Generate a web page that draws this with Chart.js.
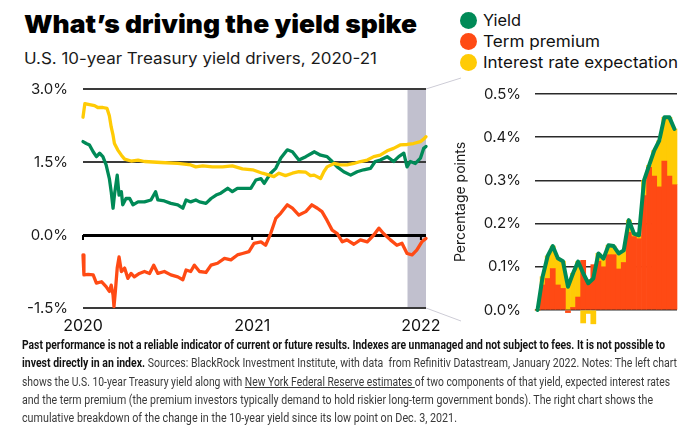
<!DOCTYPE html>
<html>
<head>
<meta charset="utf-8">
<script src="https://cdn.jsdelivr.net/npm/chart.js@4/dist/chart.umd.min.js"></script>
<style>
html,body{margin:0;padding:0;background:#fff;width:700px;height:427px;overflow:hidden;}
body{position:relative;font-family:Inter,"Open Sans",sans-serif;}
.t{position:absolute;white-space:nowrap;transform-origin:0 0;}
#title{left:24px;top:9px;font-size:25px;line-height:30px;font-weight:900;color:#000;}
#subtitle{left:24px;top:50px;font-size:15.5px;line-height:18px;color:#1a1a1a;}
.lg{left:483px;font-size:16px;line-height:20px;color:#111;}
.dot{position:absolute;left:460px;width:17px;height:17px;border-radius:50%;}
.fn{left:22px;font-family:"Liberation Sans Narrow",Roboto,sans-serif;font-size:12.5px;line-height:18px;color:#3a3a3a;}
.fn b{color:#111;}
.fn u{text-decoration:underline;}
canvas{position:absolute;top:0;}
#left{left:0;}
#right{left:440px;}
</style>
</head>
<body>
<div id="title" class="t" data-w="393">What’s driving the yield spike</div>
<div id="subtitle" class="t" data-w="353">U.S. 10-year Treasury yield drivers, 2020-21</div>

<div class="dot" style="top:12px;background:#008a57"></div>
<div class="dot" style="top:33px;background:#ff4a14"></div>
<div class="dot" style="top:54px;background:#ffcb05"></div>
<div class="t lg" style="top:10px" data-w="38">Yield</div>
<div class="t lg" style="top:31px" data-w="117">Term premium</div>
<div class="t lg" style="top:52px" data-w="195">Interest rate expectation</div>

<canvas id="left" width="470" height="340"></canvas>
<canvas id="right" width="260" height="340"></canvas>

<div class="t fn" style="top:336px" data-w="643"><b>Past performance is not a reliable indicator of current or future results. Indexes are unmanaged and not subject to fees. It is not possible to</b></div>
<div class="t fn" style="top:354.3px" data-w="655"><b>invest directly in an index.</b> Sources: BlackRock Investment Institute, with data&nbsp; from Refinitiv Datastream, January 2022. Notes: The left chart</div>
<div class="t fn" style="top:372.6px" data-w="648">shows the U.S. 10-year Treasury yield along with <u>New York Federal Reserve estimates </u>of two components of that yield, expected interest rates</div>
<div class="t fn" style="top:390.9px" data-w="631">and the term premium (the premium investors typically demand to hold riskier long-term government bonds). The right chart shows the</div>
<div class="t fn" style="top:409.2px" data-w="435">cumulative breakdown of the change in the 10-year yield since its low point on Dec. 3, 2021.</div>

<script>
// ---------- DATA ----------
// Left chart: days since 2020-01-01
const yieldDays = [0,7,14,22,29,36,43,50,57,61,65,68,74,78,83,86,93,101,108,119,133,147,157,162,176,190,205,216,223,233,244,252,266,277,288,298,313,323,334,349,363,374,385,392,406,417,428,442,453,467,482,495,500,514,528,539,550,564,579,593,607,622,632,643,658,672,683,694,701,708,719,730,737,742];
const yieldVals = [1.92,1.88,1.85,1.71,1.61,1.68,1.61,1.44,1.16,0.89,0.55,0.82,1.23,0.82,0.89,0.62,0.75,0.75,0.62,0.68,0.68,0.72,0.89,0.72,0.70,0.65,0.62,0.55,0.72,0.68,0.72,0.68,0.65,0.75,0.82,0.86,0.96,0.89,0.96,0.96,0.96,1.13,1.16,1.06,1.27,1.37,1.58,1.75,1.71,1.54,1.61,1.68,1.71,1.64,1.61,1.51,1.40,1.30,1.23,1.30,1.34,1.37,1.51,1.54,1.61,1.51,1.61,1.68,1.40,1.51,1.47,1.58,1.78,1.82];

const rateDays = [0,4,14,25,32,43,52,57,61,65,68,75,83,90,104,119,133,169,205,233,244,259,280,302,323,345,367,388,403,413,424,438,453,467,482,492,500,514,521,528,543,557,571,586,600,615,629,643,658,672,686,701,715,730,737,742];
const rateVals = [2.42,2.70,2.68,2.66,2.62,2.62,2.60,2.45,2.22,2.05,1.88,1.75,1.64,1.56,1.52,1.54,1.51,1.49,1.47,1.44,1.40,1.42,1.40,1.40,1.42,1.36,1.34,1.27,1.23,1.20,1.27,1.22,1.27,1.30,1.29,1.22,1.23,1.16,1.30,1.40,1.47,1.44,1.44,1.47,1.51,1.54,1.61,1.64,1.73,1.78,1.85,1.86,1.88,1.92,1.97,2.02];

const termDays = [0,2,11,22,29,40,50,57,61,65,67,70,74,78,83,90,97,104,111,122,133,144,153,162,176,190,205,216,223,233,241,252,266,277,291,306,320,334,345,359,370,385,395,406,417,428,442,453,467,482,495,507,517,528,539,550,561,571,586,600,615,629,640,650,665,679,690,701,712,722,733,742];
const termVals = [-0.41,-0.82,-0.81,-0.82,-0.99,-0.96,-1.06,-1.16,-1.03,-1.23,-1.47,-1.16,-0.68,-0.45,-0.75,-0.68,-0.89,-0.79,-0.86,-0.79,-0.75,-0.79,-0.62,-0.79,-0.75,-0.82,-0.86,-0.92,-0.72,-0.75,-0.62,-0.75,-0.77,-0.62,-0.58,-0.48,-0.51,-0.41,-0.38,-0.34,-0.17,-0.14,-0.21,0.03,0.34,0.45,0.62,0.55,0.41,0.48,0.62,0.55,0.48,0.30,0.10,0.03,-0.14,-0.10,-0.19,-0.10,-0.14,0.0,0.14,0.03,-0.10,-0.21,-0.17,-0.38,-0.41,-0.31,-0.14,-0.07];

const yearTickDays = [0, 366, 731];
const yearTickLabels = ['2020', '2021', '2022'];
const bandStartDay = 702; // Dec. 3, 2021
const leftMaxDay = 742;

// Right chart: cumulative change since Dec. 3, 2021 (percentage points)
const rightDates = ['Dec 3','Dec 6','Dec 7','Dec 8','Dec 9','Dec 10','Dec 13','Dec 14','Dec 15','Dec 16','Dec 17','Dec 20','Dec 21','Dec 22','Dec 23','Dec 27','Dec 28','Dec 29','Dec 30','Dec 31','Jan 3','Jan 4','Jan 5','Jan 6','Jan 7','Jan 10','Jan 11','Jan 12'];
const rYield = [0,0.077,0.125,0.148,0.12,0.113,0.054,0.085,0.112,0.085,0.062,0.073,0.131,0.119,0.15,0.148,0.131,0.138,0.208,0.177,0.173,0.30,0.335,0.369,0.392,0.446,0.446,0.419];
const rTerm  = [0,0.058,0.073,0.096,0.058,0.05,-0.006,0.006,0.03,0.115,0.07,0.105,0.113,0.10,0.128,0.128,0.095,0.11,0.18,0.17,0.165,0.265,0.33,0.31,0.285,0.345,0.31,0.29];
const rRate  = [0,0.019,0.052,0.052,0.062,0.063,0.06,0.079,0.082,-0.03,-0.008,-0.032,0.018,0.019,0.022,0.02,0.036,0.028,0.028,0.007,0.008,0.035,0.005,0.059,0.107,0.101,0.136,0.129];

// ---------- STYLE ----------
const GREEN = '#008a57', RED = '#ff4a14', YELLOW = '#ffcb05', BAND = '#c1c0ce';

Chart.defaults.font.family = 'Inter, "Open Sans", sans-serif';
Chart.defaults.color = '#1a1a1a';

const pairs = (xs, ys) => xs.map((x, i) => ({x, y: ys[i]}));

const leftDecor = {
  id: 'leftDecor',
  beforeDraw(chart) {
    const {ctx, chartArea: a, scales: {x}} = chart;
    const x0 = x.getPixelForValue(bandStartDay);
    ctx.save();
    ctx.fillStyle = BAND;
    ctx.fillRect(x0, a.top, a.right - x0, a.bottom - a.top);
    ctx.restore();
  },
  afterDraw(chart) {
    const {ctx, chartArea: a, scales: {x, y}} = chart;
    const y0 = y.getPixelForValue(0);
    ctx.save();
    ctx.strokeStyle = '#000';
    ctx.lineWidth = 2;
    yearTickDays.forEach(d => {
      const px = x.getPixelForValue(d);
      ctx.beginPath(); ctx.moveTo(px, y0); ctx.lineTo(px, y0 + 5); ctx.stroke();
    });
    ctx.strokeStyle = '#cdccd6';
    ctx.lineWidth = 1;
    ctx.beginPath();
    ctx.moveTo(a.right, a.top); ctx.lineTo(a.right + 35, a.top - 11);
    ctx.moveTo(a.right, a.bottom); ctx.lineTo(a.right + 35, a.bottom + 13);
    ctx.stroke();
    ctx.restore();
  }
};

new Chart(document.getElementById('left'), {
  type: 'line',
  data: {
    datasets: [
      {label: 'Interest rate expectation', data: pairs(rateDays, rateVals), borderColor: YELLOW, order: 0},
      {label: 'Yield', data: pairs(yieldDays, yieldVals), borderColor: GREEN, order: 1},
      {label: 'Term premium', data: pairs(termDays, termVals), borderColor: RED, order: 2}
    ]
  },
  options: {
    responsive: false,
    animation: false,
    layout: {padding: {left: 0, top: 89, right: 44, bottom: 0}},
    elements: {
      point: {radius: 0},
      line: {borderWidth: 3.3, tension: 0, borderJoinStyle: 'round', borderCapStyle: 'round', fill: false}
    },
    datasets: {line: {clip: false}},
    plugins: {legend: {display: false}, tooltip: {enabled: false}},
    scales: {
      x: {
        type: 'linear', min: 0, max: leftMaxDay,
        afterBuildTicks: s => { s.ticks = yearTickDays.map(v => ({value: v})); },
        afterFit: s => { s.height = 32; },
        ticks: {
          autoSkip: false, maxRotation: 0, padding: 9,
          font: {size: 16}, color: '#111',
          callback: v => yearTickLabels[yearTickDays.indexOf(v)]
        },
        grid: {display: false, drawTicks: false},
        border: {display: false}
      },
      y: {
        min: -1.5, max: 3,
        afterFit: s => { s.width = 83; },
        ticks: {stepSize: 1.5, padding: 15, font: {size: 15}, color: '#1a1a1a', callback: v => v.toFixed(1) + '%'},
        grid: {
          drawTicks: false,
          color: c => c.tick && c.tick.value === 0 ? '#000' : '#3a3a3a',
          lineWidth: c => c.tick && c.tick.value === 0 ? 3 : 2
        },
        border: {display: false}
      }
    }
  },
  plugins: [leftDecor]
});

new Chart(document.getElementById('right'), {
  type: 'bar',
  data: {
    labels: rightDates,
    datasets: [
      {type: 'line', label: 'Yield', data: rYield, borderColor: GREEN, borderWidth: 4, pointRadius: 0, tension: 0,
       borderJoinStyle: 'round', borderCapStyle: 'round', order: 0, stack: 'yieldLine', clip: false, fill: false},
      {label: 'Term premium', data: rTerm, backgroundColor: RED, order: 1, stack: 'parts', clip: false},
      {label: 'Interest rate expectation', data: rRate, backgroundColor: YELLOW, order: 2, stack: 'parts', clip: false}
    ]
  },
  options: {
    responsive: false,
    animation: false,
    layout: {padding: {left: 0, top: 94, right: 23, bottom: 30}},
    datasets: {bar: {barPercentage: 1, categoryPercentage: 1, borderWidth: 0}},
    plugins: {legend: {display: false}, tooltip: {enabled: false}},
    scales: {
      x: {display: false, stacked: true, offset: true},
      y: {
        stacked: true, min: 0, max: 0.5,
        afterFit: s => { s.width = 95; },
        ticks: {stepSize: 0.1, padding: 14, font: {size: 15}, color: '#1a1a1a', callback: v => v.toFixed(1) + '%'},
        grid: {drawTicks: false, color: '#2a2a2a', lineWidth: 1.5},
        border: {display: false},
        title: {display: true, text: 'Percentage points', font: {size: 14}, color: '#1a1a1a', padding: {top: 12, bottom: 0}}
      }
    }
  }
});

// fit HTML text widths to the reference
function fitAll() {
  document.querySelectorAll('.t[data-w]').forEach(el => {
    el.style.transform = 'none';
    const w = el.getBoundingClientRect().width;
    const target = parseFloat(el.dataset.w);
    if (w > 0) el.style.transform = 'scaleX(' + (target / w) + ')';
  });
}
fitAll();
if (document.fonts && document.fonts.ready) document.fonts.ready.then(fitAll);
</script>
</body>
</html>
